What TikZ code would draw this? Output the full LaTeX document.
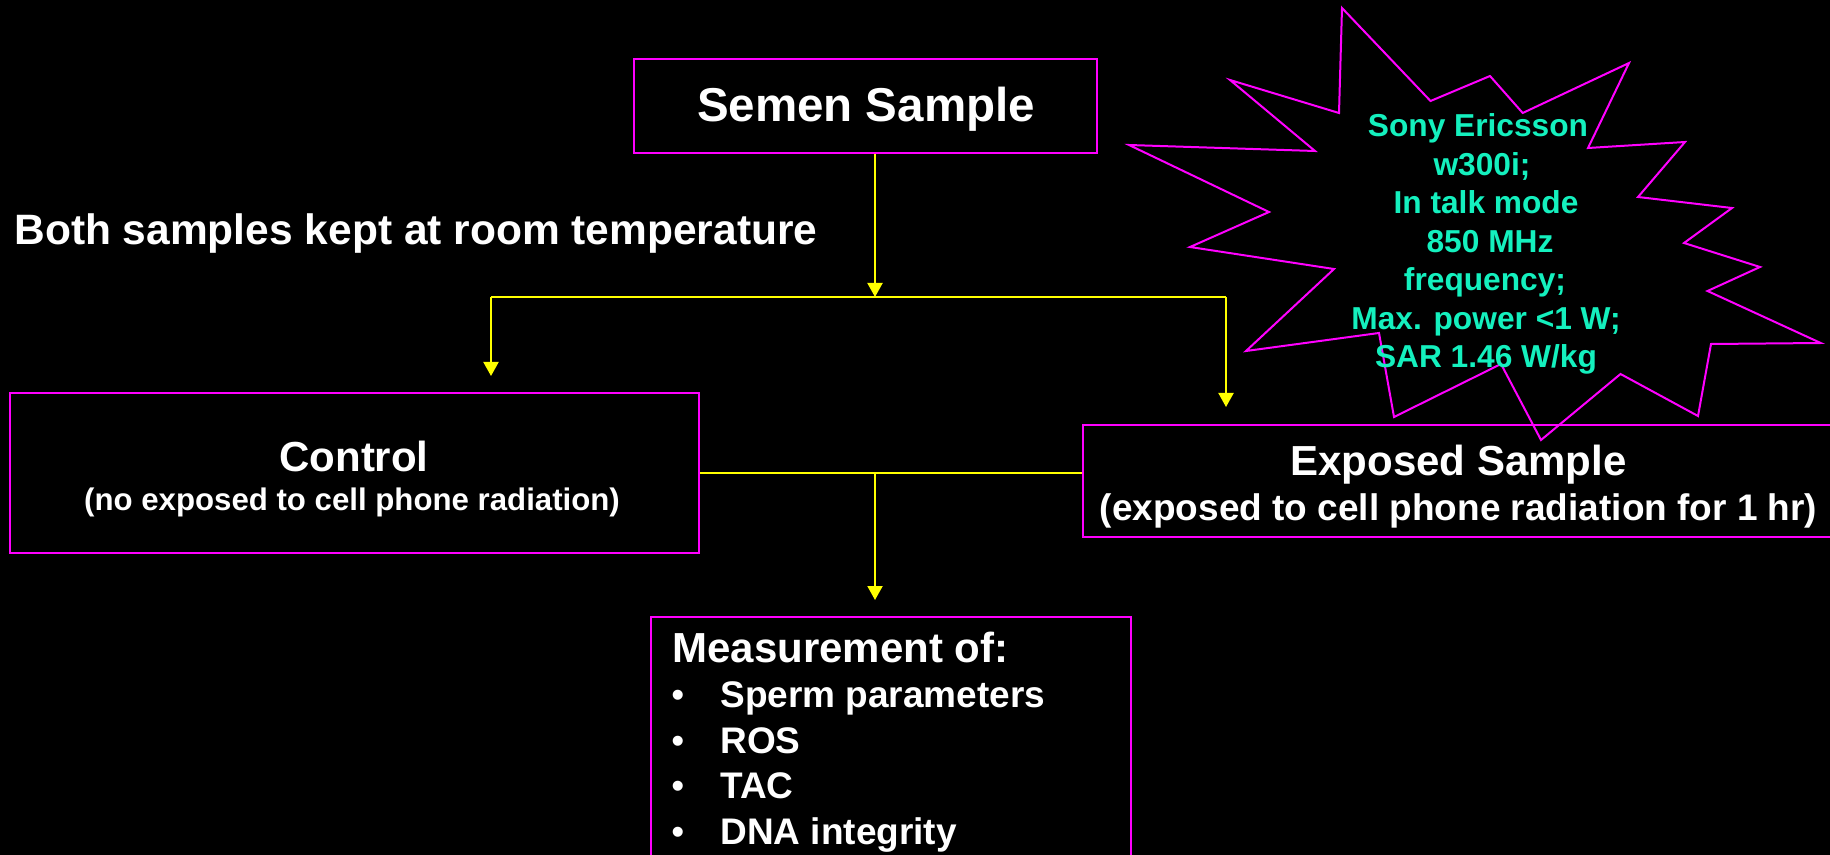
\documentclass[tikz,border=0pt]{standalone}
\usepackage{fontspec}
\setmainfont{Liberation Sans}
\usetikzlibrary{arrows.meta}
\definecolor{mag}{RGB}{255,0,255}
\definecolor{yel}{RGB}{255,255,0}
\definecolor{aqua}{RGB}{20,240,190}
\newcommand{\fs}[1]{\fontsize{#1pt}{#1pt}\selectfont\bfseries}
\begin{document}
\begin{tikzpicture}[x=0.5pt,y=-0.5pt,
  box/.style={draw=mag,line width=1.25pt,inner sep=0pt},
  conn/.style={draw=yel,line width=1pt},
  arr/.style={conn,-{Triangle[width=7.5pt,length=7pt]},fill=yel},
  txt/.style={text=white,inner sep=0pt},
  star/.style={draw=mag,line width=1pt,line join=miter},
  stxt/.style={text=aqua,inner sep=0pt,anchor=base}]
\fill[black] (0,0) rectangle (1830,855);
\useasboundingbox (0,0) rectangle (1830,855);
\clip (0,0) rectangle (1830,855);

% boxes
\node[box,minimum width=231.5pt,minimum height=47pt] (semen) at (865.5,106) {};
\node[txt,anchor=base] (semenT) at (866,122) {\fs{23.75}Semen Sample};

\node[txt,anchor=base west] (both) at (14,245) {\fs{21.25}Both samples kept at room temperature};

\node[box,minimum width=344.5pt,minimum height=80pt] (ctrl) at (354.5,473) {};
\node[txt,anchor=base] (ctrlT) at (354,471) {\fs{21}Control};
\node[txt,anchor=base] (ctrlS) at (352,510) {\fs{15.6}(no exposed to cell phone radiation)};

\node[box,minimum width=375.5pt,minimum height=56pt] (exp) at (1458.5,481) {};
\node[txt,anchor=base] (expT) at (1458.5,475) {\fs{21}Exposed Sample};
\node[txt,anchor=base] (expS) at (1458.5,520) {\fs{18.5}(exposed to cell phone radiation for 1 hr)};

\node[box,minimum width=240pt,minimum height=126.5pt] (meas) at (891,743.5) {};
\node[txt,anchor=base west] (m0) at (672,662) {\fs{21}Measurement of:};
\foreach \i/\t/\y in {1/Sperm parameters/707.5,2/ROS/753,3/TAC/798.5,4/DNA integrity/844}{
  \node[txt,anchor=base west] (b\i) at (671,\y) {\fontsize{18.5pt}{18.5pt}\selectfont\mdseries •};
  \node[txt,anchor=base west] (m\i) at (720,\y) {\fs{18.5}\t};
}

% starburst
\draw[star] (1342,8) -- (1430.5,101) -- (1490,76) -- (1522.7,113) -- (1629,63)
  -- (1588,148) -- (1685,142) -- (1638,197) -- (1732,208) -- (1684,243)
  -- (1760,267) -- (1707.5,291) -- (1820.7,343) -- (1711,344) -- (1698,416)
  -- (1620.5,374) -- (1541,440) -- (1501,364) -- (1394,417) -- (1379,333)
  -- (1246,351) -- (1334,269) -- (1190,247) -- (1269,212) -- (1129,145)
  -- (1315,151) -- (1230,80) -- (1339,113) -- cycle;
\node[stxt] (s1) at (1478,137) {\fs{15.85}Sony Ericsson};
\node[stxt] (s2) at (1482,175.5) {\fs{15.85}w300i;};
\node[stxt] (s3) at (1486,214) {\fs{15.85}In talk mode};
\node[stxt] (s4) at (1490,252.5) {\fs{15.85}850 MHz};
\node[stxt] (s5) at (1485,291) {\fs{15.85}frequency;};
\node[stxt] (s6) at (1486,329.5) {\fs{15.85}Max. power <1 W;};
\node[stxt] (s7) at (1486,368) {\fs{15.85}SAR 1.46 W/kg};

% connectors
\coordinate (j) at (875,297);
\coordinate (jl) at (491,297);
\coordinate (jr) at (1226,297);
\coordinate (tl) at (491,376);
\coordinate (tr) at (1226,407);
\coordinate (j2) at (875,473);
\coordinate (tb) at (875,600);
\draw[arr] (j |- semen.south) -- (j);
\draw[conn] (jl) -- (jr);
\draw[arr] (jl) -- (tl);
\draw[arr] (jr) -- (tr);
\draw[conn] (ctrl.east) -- (ctrl.east -| exp.west);
\draw[arr] (j2) -- (tb);
\end{tikzpicture}
\end{document}
